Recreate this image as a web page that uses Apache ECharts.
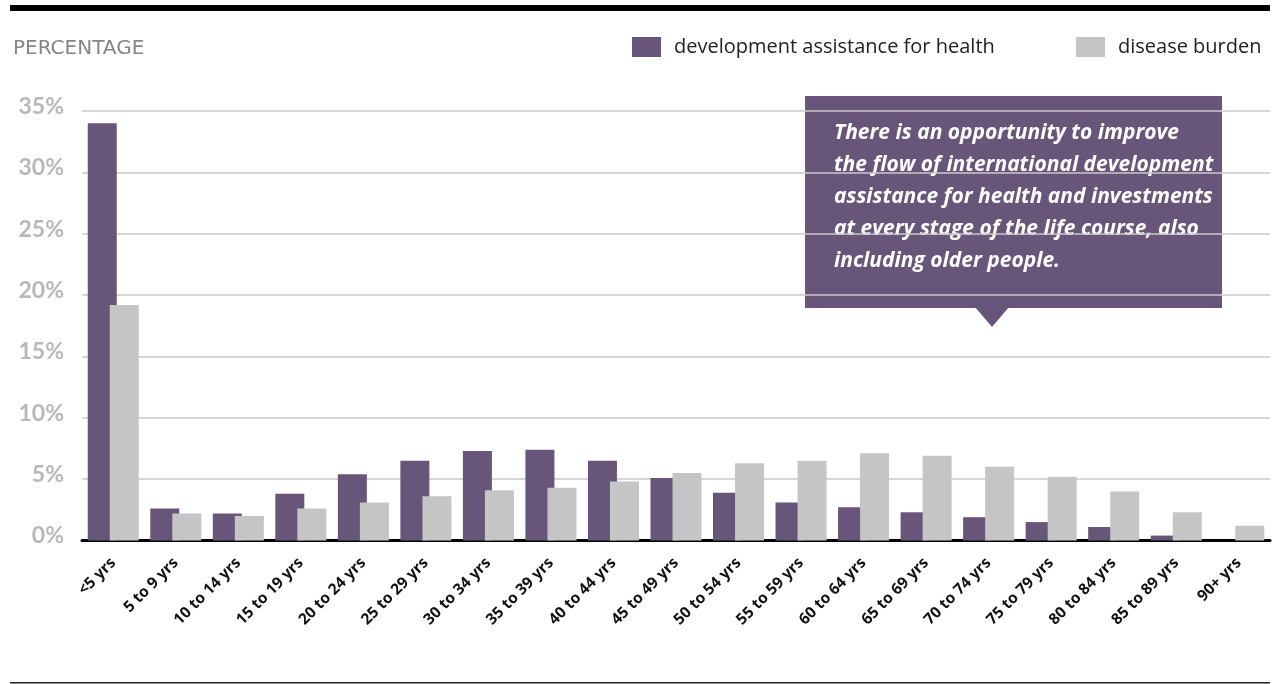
<!DOCTYPE html>
<html>
<head>
<meta charset="utf-8">
<script src="https://cdn.jsdelivr.net/npm/echarts@6/dist/echarts.min.js"></script>
<style>
  html, body { margin: 0; padding: 0; background: #ffffff; }
  #chart { width: 1280px; height: 684px; }
</style>
</head>
<body>
<div id="chart"></div>
<script>
// Age groups along the x axis
const ageGroups = ['<5 yrs', '5 to 9 yrs', '10 to 14 yrs', '15 to 19 yrs', '20 to 24 yrs',
  '25 to 29 yrs', '30 to 34 yrs', '35 to 39 yrs', '40 to 44 yrs', '45 to 49 yrs',
  '50 to 54 yrs', '55 to 59 yrs', '60 to 64 yrs', '65 to 69 yrs', '70 to 74 yrs',
  '75 to 79 yrs', '80 to 84 yrs', '85 to 89 yrs', '90+ yrs'];

// Share of development assistance for health by age group (%)
const assistanceShare = [34.0, 2.6, 2.2, 3.8, 5.4, 6.5, 7.3, 7.4, 6.5, 5.1,
  3.9, 3.1, 2.7, 2.3, 1.9, 1.5, 1.1, 0.4, 0];

// Share of disease burden by age group (%)
const burdenShare = [19.2, 2.2, 2.0, 2.6, 3.1, 3.6, 4.1, 4.3, 4.8, 5.5,
  6.3, 6.5, 7.1, 6.9, 6.0, 5.2, 4.0, 2.3, 1.2];

// Y axis ticks
const yTicks = { min: 0, max: 35, step: 5 };

const seriesNames = ['development assistance for health', 'disease burden'];
const calloutText = 'There is an opportunity to improve\nthe flow of international development\nassistance for health and investments\nat every stage of the life course, also\nincluding older people.';

const PURPLE = '#68567a';
const GREY = '#c5c5c5';

const legendText = {
  fontFamily: 'Open Sans',
  fontSize: 20,
  color: '#222222',
  padding: [0, 0, 0, 8]
};

const chart = echarts.init(document.getElementById('chart'), null, { renderer: 'canvas' });

chart.setOption({
  animation: false,
  backgroundColor: '#ffffff',
  title: {
    text: 'PERCENTAGE',
    left: 8,
    top: 34,
    textStyle: {
      fontFamily: 'DejaVu Sans',
      fontSize: 20,
      fontWeight: 'normal',
      color: '#858585'
    }
  },
  // one legend block per series so each swatch sits where it belongs
  legend: [
    {
      left: 632,
      top: 37,
      padding: 0,
      itemWidth: 29,
      itemHeight: 20,
      icon: 'rect',
      selectedMode: false,
      textStyle: legendText,
      data: [seriesNames[0]]
    },
    {
      left: 1076,
      top: 37,
      padding: 0,
      itemWidth: 29,
      itemHeight: 20,
      icon: 'rect',
      selectedMode: false,
      textStyle: legendText,
      data: [seriesNames[1]]
    }
  ],
  grid: {
    left: 82,
    right: 10,
    top: 111,
    bottom: 143.5,
    containLabel: false
  },
  xAxis: {
    type: 'category',
    data: ageGroups,
    axisLine: { show: true, lineStyle: { color: '#000000', width: 3 } },
    axisTick: { show: false },
    axisLabel: {
      interval: 0,
      rotate: 45,
      margin: 20,
      fontFamily: 'Open Sans',
      fontWeight: 'bold',
      fontSize: 15.5,
      color: '#111111'
    }
  },
  yAxis: {
    type: 'value',
    min: yTicks.min,
    max: yTicks.max,
    interval: yTicks.step,
    axisLine: { show: false },
    axisTick: { show: false },
    splitLine: { lineStyle: { color: '#c8c8c8', width: 1.5 } },
    axisLabel: {
      margin: 18,
      formatter: '{value}%',
      fontFamily: 'Lato',
      fontWeight: 'bold',
      fontSize: 23,
      color: '#b8b8b8',
      verticalAlign: 'bottom',
      lineHeight: 9
    }
  },
  series: [
    {
      name: seriesNames[0],
      type: 'bar',
      data: assistanceShare,
      barWidth: 29,
      barGap: '-24%',
      itemStyle: { color: PURPLE }
    },
    {
      name: seriesNames[1],
      type: 'bar',
      data: burdenShare,
      barWidth: 29,
      barGap: '-24%',
      itemStyle: { color: GREY }
    }
  ],
  graphic: [
    // heavy rule across the top
    {
      type: 'rect',
      shape: { x: 10, y: 5, width: 1260, height: 6 },
      style: { fill: '#000000' },
      z: 10
    },
    // thin rule across the bottom
    {
      type: 'rect',
      shape: { x: 10, y: 682, width: 1260, height: 1.5 },
      style: { fill: '#222222' },
      z: 10
    },
    // callout box with pointer
    {
      type: 'group',
      z: 100,
      children: [
        {
          type: 'rect',
          shape: { x: 805, y: 96, width: 417, height: 212 },
          style: { fill: PURPLE }
        },
        {
          type: 'polygon',
          shape: { points: [[975, 307], [1009, 307], [992, 327]] },
          style: { fill: PURPLE }
        },
        {
          type: 'text',
          style: {
            x: 834,
            y: 117,
            text: calloutText,
            fill: '#ffffff',
            font: 'italic bold 21px "Open Sans"',
            lineHeight: 32,
            verticalAlign: 'top'
          }
        }
      ]
    }
  ]
});
</script>
</body>
</html>
